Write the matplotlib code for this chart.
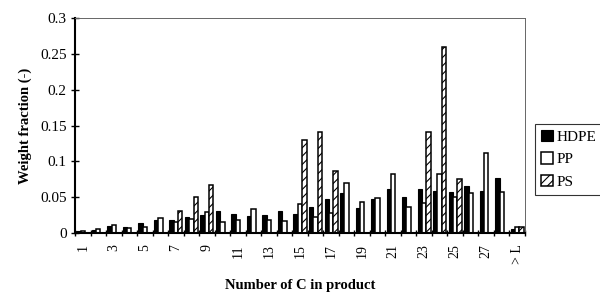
import matplotlib
matplotlib.use("Agg")
import matplotlib.pyplot as plt
import numpy as np

plt.rcParams['font.family'] = ['Liberation Serif', 'DejaVu Serif']
plt.rcParams['hatch.linewidth'] = 0.8

categories = [str(i) for i in range(1, 29)] + ['> L']
hdpe = [0.003, 0.004, 0.010, 0.008, 0.014, 0.018, 0.018, 0.023, 0.025, 0.031,
        0.027, 0.024, 0.025, 0.031, 0.026, 0.036, 0.048, 0.056, 0.035, 0.048,
        0.061, 0.051, 0.061, 0.059, 0.057, 0.066, 0.059, 0.077, 0.006]
pp = [0.003, 0.006, 0.011, 0.007, 0.009, 0.021, 0.015, 0.020, 0.029, 0.016,
      0.018, 0.033, 0.018, 0.017, 0.040, 0.022, 0.028, 0.070, 0.044, 0.049,
      0.083, 0.036, 0.042, 0.083, 0.050, 0.056, 0.112, 0.057, 0.009]
ps = [0.0, 0.0, 0.0, 0.0, 0.0, 0.0, 0.031, 0.050, 0.067, 0.0,
      0.0, 0.0, 0.0, 0.0, 0.130, 0.141, 0.086, 0.0, 0.0, 0.0,
      0.0, 0.0, 0.141, 0.260, 0.075, 0.0, 0.0, 0.0, 0.009]
series_names = ['HDPE', 'PP', 'PS']
tick_labels = [c if (i % 2 == 0) else '' for i, c in enumerate(categories)]

fig = plt.figure(figsize=(6.0, 2.97), dpi=100)
ax = fig.add_axes([0.125, 0.2155, 0.75, 0.7225])

x = np.arange(len(categories))
w = 0.28
ax.bar(x - w, hdpe, w, color='black', edgecolor='black', linewidth=0.8, label=series_names[0])
ax.bar(x, pp, w, color='white', edgecolor='black', linewidth=1.1, label=series_names[1])
ax.bar(x + w, ps, w, color='white', edgecolor='black', linewidth=1.1, hatch='////', label=series_names[2])

ax.set_xlim(-0.5, len(categories) - 0.5)
ax.set_ylim(0, 0.3)
ax.set_yticks(np.arange(0, 0.31, 0.05))
ax.set_yticklabels(['0', '0.05', '0.1', '0.15', '0.2', '0.25', '0.3'], fontsize=11)
ax.set_xticks(x)
ax.set_xticklabels(tick_labels, rotation=90, fontsize=10)
ax.set_xticks(np.arange(-0.5, len(categories), 1), minor=True)
ax.tick_params(axis='x', which='major', length=0, pad=8)
ax.tick_params(axis='x', which='minor', length=4, direction='inout', width=1)
ax.tick_params(axis='y', length=6, direction='inout', width=1, pad=3)

for s in ['top', 'right']:
    ax.spines[s].set_linestyle((0, (1, 1)))
    ax.spines[s].set_color('#666666')
    ax.spines[s].set_linewidth(0.7)
for s in ['left', 'bottom']:
    ax.spines[s].set_linewidth(1.5)

ax.set_ylabel('Weight fraction (-)', fontsize=10.5, fontweight='bold', labelpad=6)
ax.set_xlabel('Number of C in product', fontsize=10.5, fontweight='bold', labelpad=11)

leg = ax.legend(loc='upper left', bbox_to_anchor=(1.022, 0.51), fontsize=11,
                frameon=True, fancybox=False, edgecolor='black', handlelength=0.8,
                handleheight=0.8, handletextpad=0.2, borderpad=0.4, labelspacing=0.55,
                borderaxespad=0)
leg.get_frame().set_linewidth(0.8)

fig.savefig('out.png', dpi=100)
